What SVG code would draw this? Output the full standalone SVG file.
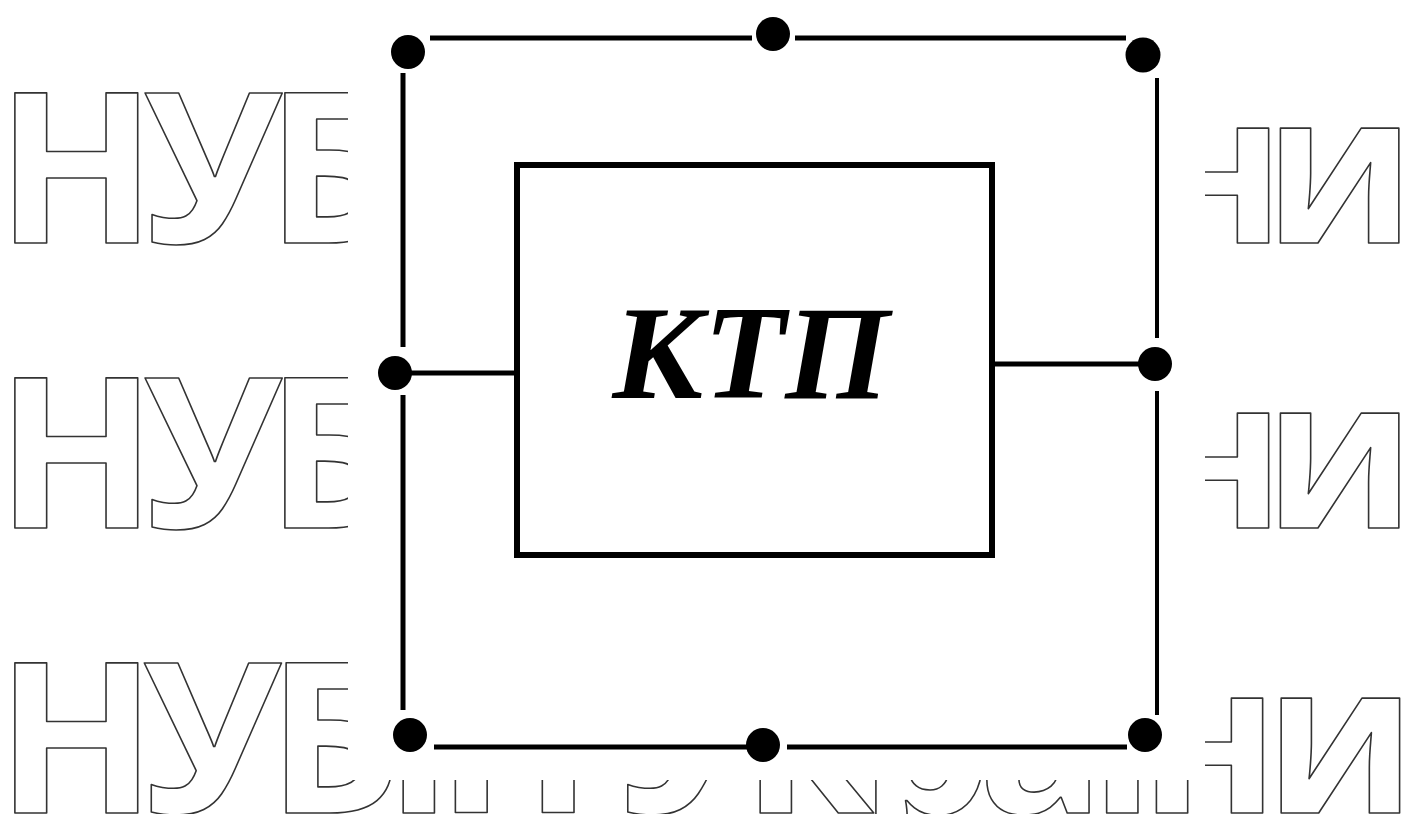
<svg xmlns="http://www.w3.org/2000/svg" width="1402" height="814" viewBox="0 0 1402 814">
<style>
.wm{font-family:"Open Sans","DejaVu Sans",sans-serif;font-weight:700;font-size:210px;fill:#fff;stroke:#333;stroke-width:1.6px;stroke-linejoin:round}
.ln{stroke:#000;stroke-width:5;fill:none;stroke-linecap:butt}
.dot{fill:#000}
.box{fill:#fff;stroke:#000;stroke-width:6}
.lbl{font-family:"Liberation Serif","Times New Roman",serif;font-weight:700;font-style:italic;font-size:134px;fill:#000}
</style>
<rect width="1402" height="814" fill="#fff"/>
<g id="watermark">
<text class="wm" x="-4 143 266" y="243">НУБ</text>
<text class="wm" x="1146 1264" y="243">ни</text>
<text class="wm" x="-4 143 266" y="528">НУБ</text>
<text class="wm" x="1146 1264" y="528">ни</text>
<text class="wm" x="-4" y="813" textLength="1420" lengthAdjust="spacing">НУБіП України</text>
<rect x="348" y="0" width="857" height="780" fill="#fff"/>
</g>
<g id="connectors">
<line class="ln" x1="430" y1="38" x2="752" y2="38"/>
<line class="ln" x1="795" y1="38" x2="1126" y2="38"/>
<line class="ln" x1="403" y1="73" x2="403" y2="347"/>
<line class="ln" x1="403" y1="395" x2="403" y2="710"/>
<line class="ln" x1="1157" y1="78" x2="1157" y2="338" style="stroke-width:4"/>
<line class="ln" x1="1157" y1="391" x2="1157" y2="715" style="stroke-width:4"/>
<line class="ln" x1="434" y1="747" x2="747" y2="747"/>
<line class="ln" x1="787" y1="747" x2="1127" y2="747"/>
<line class="ln" x1="410" y1="373" x2="517" y2="373"/>
<line class="ln" x1="992" y1="364" x2="1150" y2="364"/>
</g>
<g id="junctions">
<circle id="j-tl" class="dot" cx="408" cy="52" r="17"/>
<circle id="j-tm" class="dot" cx="773" cy="34" r="17"/>
<circle id="j-tr" class="dot" cx="1143" cy="55" r="17.5"/>
<circle id="j-l" class="dot" cx="395" cy="373" r="17"/>
<circle id="j-r" class="dot" cx="1155" cy="364" r="17"/>
<circle id="j-bl" class="dot" cx="410" cy="735" r="17"/>
<circle id="j-bm" class="dot" cx="763" cy="745" r="17"/>
<circle id="j-br" class="dot" cx="1145" cy="735" r="17"/>
</g>
<g id="ktp">
<rect class="box" x="517" y="165" width="475" height="390"/>
<text class="lbl" x="751" y="398" text-anchor="middle">КТП</text>
</g>
</svg>
